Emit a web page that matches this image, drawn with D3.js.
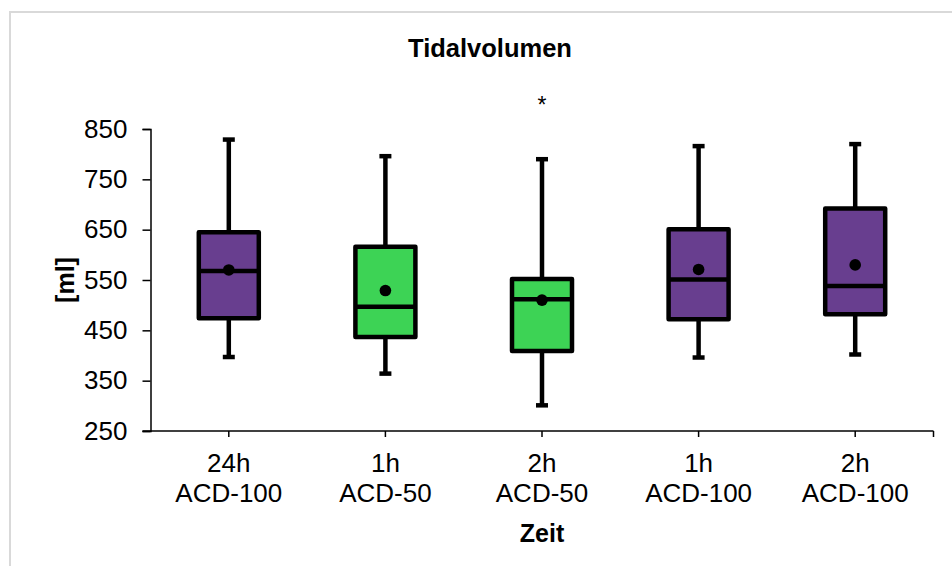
<!DOCTYPE html>
<html>
<head>
<meta charset="utf-8">
<script src="https://cdn.jsdelivr.net/npm/d3@7"></script>
<style>
  html, body { margin: 0; padding: 0; background: #fff; }
  svg { display: block; font-family: "Liberation Sans", Arial, sans-serif; }
</style>
</head>
<body>
<svg id="chart" width="952" height="566"></svg>
<script>
const timeLabels  = ["24h", "1h", "2h", "1h", "2h"];
const groupLabels = ["ACD-100", "ACD-50", "ACD-50", "ACD-100", "ACD-100"];
const whiskerLow  = [397, 364, 301, 396, 402];
const q1          = [474, 437, 409, 472, 482];
const median      = [568, 497, 512, 551, 538];
const q3          = [645, 616, 552, 651, 692];
const whiskerHigh = [829, 796, 790, 816, 820];
const meanValues  = [570, 529, 510, 571, 580];
const outliers    = [{ idx: 2, value: 908 }];
const yTicks      = [250, 350, 450, 550, 650, 750, 850];
const groupColor  = { "ACD-100": "#683E8F", "ACD-50": "#3DD355" };

const svg = d3.select("#chart");

// outer frame
svg.append("rect")
  .attr("x", 10).attr("y", 12)
  .attr("width", 1000).attr("height", 700)
  .attr("fill", "none").attr("stroke", "#d9d9d9").attr("stroke-width", 2);

const plot = { left: 150.5, right: 933.5, top: 129, bottom: 431 };
const idx = d3.range(timeLabels.length);

const x = d3.scaleBand().domain(idx).range([plot.left, plot.right]).padding(0);
const y = d3.scaleLinear().domain([250, 850]).range([plot.bottom, plot.top]);
const cx = i => x(i) + x.bandwidth() / 2;

// title
svg.append("text")
  .attr("x", 490).attr("y", 56.5)
  .attr("text-anchor", "middle")
  .attr("font-size", 25.5).attr("font-weight", "bold")
  .text("Tidalvolumen");

// y axis
const yAxis = svg.append("g")
  .attr("transform", `translate(${plot.left},0)`)
  .call(d3.axisLeft(y).tickValues(yTicks).tickSize(8).tickPadding(15).tickFormat(d3.format("d")));
yAxis.select(".domain").attr("stroke", "#000").attr("stroke-width", 1.5);
yAxis.selectAll(".tick line").attr("stroke", "#000").attr("stroke-width", 1.5);
yAxis.selectAll(".tick text")
  .attr("font-size", 26).attr("fill", "#000")
  .attr("font-family", "'Liberation Sans', Arial, sans-serif");

// x axis
const xg = svg.append("g").attr("transform", `translate(0,${plot.bottom})`);
xg.append("line")
  .attr("x1", plot.left - 8).attr("x2", plot.right)
  .attr("y1", 0).attr("y2", 0)
  .attr("stroke", "#000").attr("stroke-width", 1.5);
xg.selectAll("line.tick")
  .data(idx.map(cx).concat([plot.right]))
  .join("line").attr("class", "tick")
  .attr("x1", d => d).attr("x2", d => d)
  .attr("y1", 0).attr("y2", 6)
  .attr("stroke", "#000").attr("stroke-width", 1.5);
const xl = xg.selectAll("text.lbl").data(idx).join("text")
  .attr("class", "lbl")
  .attr("text-anchor", "middle")
  .attr("font-size", 26)
  .attr("transform", i => `translate(${cx(i)},0)`);
xl.append("tspan").attr("x", 0).attr("y", 41).text(i => timeLabels[i]);
xl.append("tspan").attr("x", 0).attr("y", 71).text(i => groupLabels[i]);

// axis titles
svg.append("text")
  .attr("x", cx(2)).attr("y", 541.5)
  .attr("text-anchor", "middle")
  .attr("font-size", 25).attr("font-weight", "bold")
  .text("Zeit");
svg.append("text")
  .attr("transform", `translate(74,${(plot.top + plot.bottom) / 2}) rotate(-90)`)
  .attr("text-anchor", "middle")
  .attr("font-size", 25).attr("font-weight", "bold")
  .text("[ml]");

// boxes
const boxW = 60, capW = 12, sw = 4.5;
const g = svg.append("g");
const boxes = g.selectAll("g.box").data(idx).join("g").attr("class", "box");

boxes.append("line")
  .attr("x1", cx).attr("x2", cx)
  .attr("y1", i => y(whiskerHigh[i])).attr("y2", i => y(q3[i]))
  .attr("stroke", "#000").attr("stroke-width", sw);
boxes.append("line")
  .attr("x1", cx).attr("x2", cx)
  .attr("y1", i => y(q1[i])).attr("y2", i => y(whiskerLow[i]))
  .attr("stroke", "#000").attr("stroke-width", sw);
boxes.append("line")
  .attr("x1", i => cx(i) - capW / 2).attr("x2", i => cx(i) + capW / 2)
  .attr("y1", i => y(whiskerHigh[i])).attr("y2", i => y(whiskerHigh[i]))
  .attr("stroke", "#000").attr("stroke-width", sw);
boxes.append("line")
  .attr("x1", i => cx(i) - capW / 2).attr("x2", i => cx(i) + capW / 2)
  .attr("y1", i => y(whiskerLow[i])).attr("y2", i => y(whiskerLow[i]))
  .attr("stroke", "#000").attr("stroke-width", sw);
boxes.append("rect")
  .attr("x", i => cx(i) - boxW / 2).attr("width", boxW)
  .attr("y", i => y(q3[i])).attr("height", i => y(q1[i]) - y(q3[i]))
  .attr("fill", i => groupColor[groupLabels[i]])
  .attr("stroke", "#000").attr("stroke-width", sw)
  .attr("stroke-linejoin", "round");
boxes.append("line")
  .attr("x1", i => cx(i) - boxW / 2).attr("x2", i => cx(i) + boxW / 2)
  .attr("y1", i => y(median[i])).attr("y2", i => y(median[i]))
  .attr("stroke", "#000").attr("stroke-width", sw);
boxes.append("circle")
  .attr("cx", cx).attr("cy", i => y(meanValues[i]))
  .attr("r", 5.8).attr("fill", "#000");

// outliers
g.selectAll("text.out").data(outliers).join("text")
  .attr("class", "out")
  .attr("x", d => cx(d.idx)).attr("y", d => y(d.value))
  .attr("dy", 13)
  .attr("text-anchor", "middle")
  .attr("font-size", 23)
  .text("*");
</script>
</body>
</html>
